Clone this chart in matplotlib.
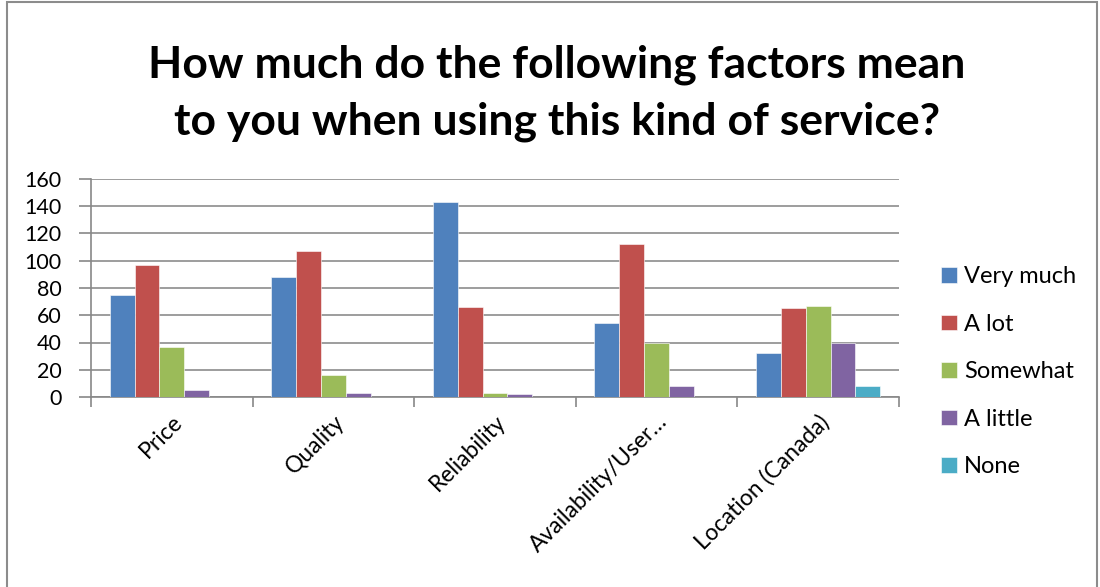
import numpy as np
import matplotlib.pyplot as plt
from matplotlib.patches import Rectangle

plt.rcParams['font.family'] = ['Lato', 'DejaVu Sans']

categories = ['Price', 'Quality', 'Reliability', 'Availability/User…', 'Location (Canada)']
series_names = ['Very much', 'A lot', 'Somewhat', 'A little', 'None']
very_much = [75, 88, 143, 54, 32]
a_lot = [97, 107, 66, 112, 65]
somewhat = [37, 16, 3, 40, 67]
a_little = [5, 3, 2, 8, 40]
none = [0, 0, 0, 0, 8]
colors = ['#4F81BD', '#C0504D', '#9BBB59', '#8064A2', '#4BACC6']

fig = plt.figure(figsize=(11, 5.87), dpi=100)
# chart area border
fig.patches.append(Rectangle((7/1100, -0.02), 1090/1100, 1.02 - 1.5/587,
                             transform=fig.transFigure, fill=False,
                             edgecolor='#8c8c8c', linewidth=1.5))
ax = fig.add_axes([91/1100, 1-397/587, (899-91)/1100, (397-179)/587])

x = np.arange(len(categories))
w = 1/6.5
for i, (vals, name) in enumerate(zip([very_much, a_lot, somewhat, a_little, none], series_names)):
    ax.bar(x + (i-2)*w, vals, w, color=colors[i], label=name,
           edgecolor='white', linewidth=0.4, zorder=3)

ax.set_xlim(-0.5, len(categories)-0.5)
ax.set_ylim(0, 160)
ax.set_yticks(range(0, 161, 20))
ax.yaxis.grid(True, color='#8c8c8c', linewidth=1.2, zorder=0)
ax.tick_params(axis='y', labelsize=15.5, length=9, color='#888888', width=1.2, pad=12)
ax.set_xticks(np.arange(-0.5, len(categories)), minor=False)
ax.set_xticklabels([])
ax.set_xticks(x, minor=True)
ax.set_xticklabels(categories, minor=True, rotation=45, ha='right', va='top',
                   rotation_mode='anchor', fontsize=16.5)
ax.tick_params(axis='x', which='major', length=7, color='#888888', width=1.2)
ax.tick_params(axis='x', which='minor', length=0, pad=10)
for s in ['top', 'right']:
    ax.spines[s].set_visible(False)
ax.spines['left'].set_color('#888888')
ax.spines['bottom'].set_color('#888888')
ax.spines['left'].set_linewidth(1.2)
ax.spines['bottom'].set_linewidth(1.2)

fig.text(557/1100, 1-93/587, 'How much do the following factors mean\nto you when using this kind of service?',
         ha='center', va='center', fontsize=32, fontweight='bold', linespacing=1.5)

fig.legend(loc='upper left', bbox_to_anchor=(932/1100, 1-257/587), frameon=False,
           fontsize=17, handlelength=0.65, handleheight=0.65, handletextpad=0.3,
           labelspacing=1.12, borderaxespad=0)

fig.savefig('out.png', dpi=100)
